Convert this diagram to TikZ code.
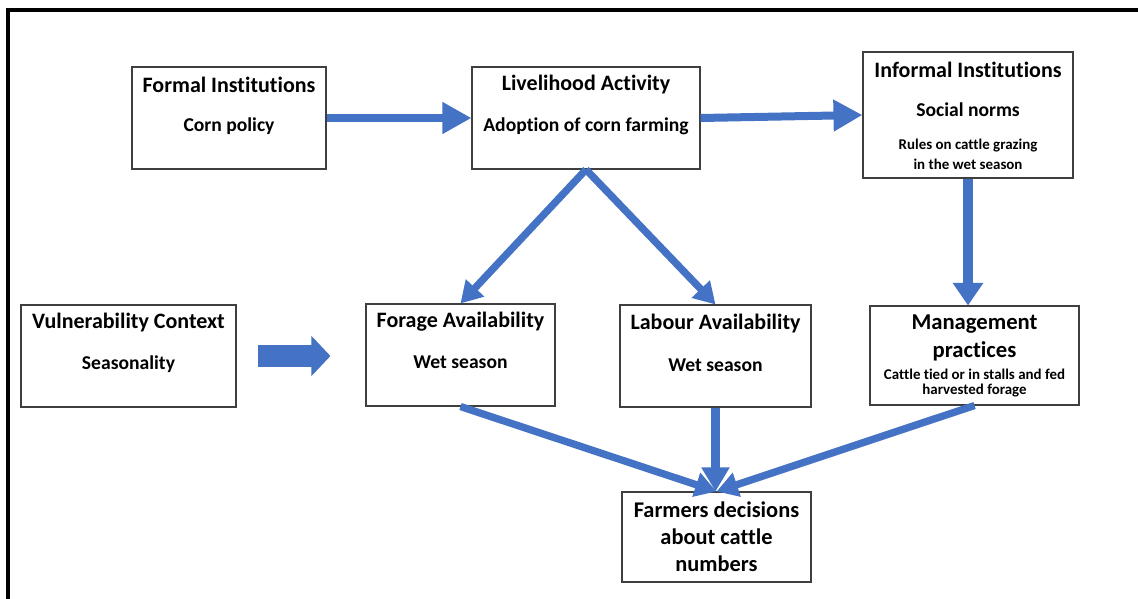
\documentclass[tikz,border=0pt]{standalone}
\usepackage{fontspec}
\setmainfont{Carlito}[Ligatures=NoCommon]
\usetikzlibrary{arrows.meta}
\definecolor{flow}{HTML}{4472C4}
\definecolor{edge}{HTML}{3F3F3F}
\tikzset{
  box/.style={draw=edge, line width=0.8pt, fill=white, inner sep=0pt},
  title/.style={font=\bfseries\fontsize{16.5}{20}\selectfont, inner sep=0pt, anchor=center},
  sub/.style={font=\bfseries\fontsize{14.7}{18}\selectfont, inner sep=0pt, anchor=center},
  small/.style={font=\bfseries\fontsize{11.2}{14}\selectfont, inner sep=0pt, anchor=center},
  bigline/.style={font=\bfseries\fontsize{17}{20}\selectfont, inner sep=0pt, anchor=center},
  decline/.style={font=\bfseries\fontsize{16.8}{20}\selectfont, inner sep=0pt, anchor=center},
  blockarrow/.style={draw=flow, line width=6pt, -{Triangle[length=21.75pt,width=22.5pt]}},
  thinarrow/.style={draw=flow, line width=5.5pt, -{Triangle[length=16pt,width=18pt]}},
}
\begin{document}
\begin{tikzpicture}[x=0.75pt,y=-0.75pt]
\useasboundingbox (0,0) rectangle (1138,599);
% frame on the top and left sides
\draw[line width=2.7pt, line join=miter] (8,599) -- (8,9.8) -- (1138,9.8);

% boxes
\node[box, minimum width=194*0.75pt, minimum height=102*0.75pt] (formal) at (229,118) {};
\node[box, minimum width=228*0.75pt, minimum height=102*0.75pt] (liveli) at (586,118) {};
\node[box, minimum width=210*0.75pt, minimum height=126*0.75pt] (informal) at (968,115) {};
\node[box, minimum width=215*0.75pt, minimum height=102*0.75pt] (vuln) at (128.5,356) {};
\node[box, minimum width=189*0.75pt, minimum height=102*0.75pt] (forage) at (460.5,355) {};
\node[box, minimum width=191*0.75pt, minimum height=102*0.75pt] (labour) at (715.5,356) {};
\node[box, minimum width=209*0.75pt, minimum height=99*0.75pt] (manage) at (974.5,355.5) {};
\node[box, minimum width=189*0.75pt, minimum height=90*0.75pt] (farmers) at (716.5,537) {};

% texts
\node[title] (formalT) at (229,85) {Formal Institutions};
\node[sub] (formalS) at (229,126) {Corn policy};
\node[title] (liveliT) at (586,85) {Livelihood Activity};
\node[sub] (liveliS) at (586,126) {Adoption of corn farming};
\node[title] (informalT) at (968,70) {Informal Institutions};
\node[sub] (informalS) at (968,110) {Social norms};
\node[small] (informalR1) at (968,146) {Rules on cattle grazing};
\node[small] (informalR2) at (968,164) {in the wet season};
\node[title] (vulnT) at (128.5,323) {Vulnerability Context};
\node[sub] (vulnS) at (128.5,364) {Seasonality};
\node[title] (forageT) at (460.5,322) {Forage Availability};
\node[sub] (forageS) at (460.5,362) {Wet season};
\node[title] (labourT) at (715.5,324) {Labour Availability};
\node[sub] (labourS) at (715.5,365) {Wet season};
\node[bigline] (manageT1) at (974.5,324) {Management};
\node[bigline] (manageT2) at (974.5,351) {practices};
\node[small] (manageS1) at (974.5,374) {Cattle tied or in stalls and fed};
\node[small] (manageS2) at (974.5,391) {harvested forage};
\node[decline] (farmT1) at (716.5,510) {Farmers decisions};
\node[decline] (farmT2) at (716.5,537) {about cattle};
\node[decline] (farmT3) at (716.5,564) {numbers};

% connectors
\draw[blockarrow] (formal.east) -- (liveli.west);
\draw[blockarrow] (liveli.east) -- (informal.west);
\draw[draw=flow, line width=16.5pt, -{Triangle[length=14.25pt,width=29.25pt]},
      shorten <=21*0.75pt, shorten >=35*0.75pt] (vuln.east) -- (vuln.east -| forage.west);
\draw[thinarrow] (liveli.south) -- (forage.north);
\draw[thinarrow] (liveli.south) -- (labour.north);
\draw[draw=flow, line width=7pt, -{Triangle[length=17pt,width=22pt]}] (informal.south) -- (informal.south |- manage.north);
\draw[thinarrow] (forage.south) -- (farmers.north);
\draw[draw=flow, line width=7pt, -{Triangle[length=18pt,width=20pt]}] (labour.south) -- (labour.south |- farmers.north);
\draw[thinarrow] (manage.south) -- (farmers.north);
\end{tikzpicture}
\end{document}
